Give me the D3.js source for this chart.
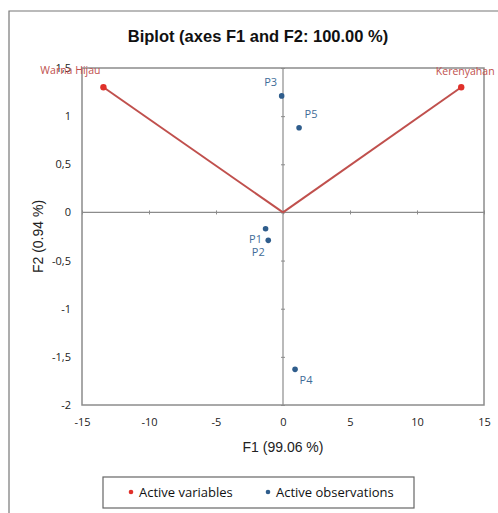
<!DOCTYPE html>
<html><head><meta charset="utf-8">
<script src="https://cdn.jsdelivr.net/npm/d3@7"></script>
<style>body{margin:0;background:#fff}svg{display:block}</style>
</head><body>
<script>
const variableNames = ["Warna Hijau", "Kerenyahan"];
const variableF1 = [-13.4, 13.3];
const variableF2 = [1.3, 1.3];
const observationNames = ["P1", "P2", "P3", "P4", "P5"];
const observationF1 = [-1.3, -1.1, -0.1, 0.9, 1.2];
const observationF2 = [-0.17, -0.29, 1.21, -1.63, 0.88];
const xTicks = [-15, -10, -5, 0, 5, 10, 15];
const yTicks = [-2, -1.5, -1, -0.5, 0, 0.5, 1, 1.5];
const legendLabels = ["Active variables", "Active observations"];

const W = 498, H = 513;
const plot = {l: 82, r: 484, t: 68, b: 405};
const red = "#c0504d", redDot = "#e0302a", blue = "#2f5d8c", blueText = "#3f6c98", grey = "#8c8c8c";

const svg = d3.select("body").append("svg").attr("width", W).attr("height", H);
const x = d3.scaleLinear().domain([-15, 15]).range([plot.l, plot.r]);
const y = d3.scaleLinear().domain([-2, 1.5]).range([plot.b, plot.t]);
const fmt = v => String(v).replace(".", ",");

// outer frame (top and left)
svg.append("path").attr("d", `M9,${H} V11 H${W}`).attr("fill", "none").attr("stroke", "#777").attr("stroke-width", 1.2);

// title
svg.append("text").attr("x", 258).attr("y", 42).attr("text-anchor", "middle")
  .attr("font-family", "Liberation Sans, Arial, sans-serif").attr("font-weight", "bold").attr("font-size", 16.5)
  .attr("fill", "#111").text("Biplot (axes F1 and F2: 100.00 %)");

// plot frame
svg.append("rect").attr("x", plot.l).attr("y", plot.t).attr("width", plot.r - plot.l).attr("height", plot.b - plot.t)
  .attr("fill", "none").attr("stroke", grey).attr("stroke-width", 1.5);

// zero lines
svg.append("line").attr("x1", plot.l).attr("x2", plot.r).attr("y1", y(0)).attr("y2", y(0)).attr("stroke", grey).attr("stroke-width", 1.2);
svg.append("line").attr("x1", x(0)).attr("x2", x(0)).attr("y1", plot.t).attr("y2", plot.b).attr("stroke", grey).attr("stroke-width", 1.2);

// axis ticks on zero lines
const xAxis = d3.axisBottom(x).tickValues(xTicks).tickSize(4).tickFormat("");
const gx0 = svg.append("g").attr("transform", `translate(0,${y(0) - 2})`).call(xAxis);
gx0.select(".domain").remove();
gx0.selectAll("line").attr("stroke", grey);
const yAxis = d3.axisRight(y).tickValues(yTicks).tickSize(4).tickFormat("");
const gy0 = svg.append("g").attr("transform", `translate(${x(0) - 2},0)`).call(yAxis);
gy0.select(".domain").remove();
gy0.selectAll("line").attr("stroke", grey);

// tick labels
const gxl = svg.append("g").attr("transform", `translate(0,${plot.b})`)
  .call(d3.axisBottom(x).tickValues(xTicks).tickSize(0).tickPadding(13).tickFormat(fmt));
gxl.select(".domain").remove();
gxl.selectAll("text").attr("font-family", "Open Sans, sans-serif").attr("font-size", 11).attr("fill", "#222");
const gyl = svg.append("g").attr("transform", `translate(${plot.l},0)`)
  .call(d3.axisLeft(y).tickValues(yTicks).tickSize(0).tickPadding(11).tickFormat(fmt));
gyl.select(".domain").remove();
gyl.selectAll("text").attr("font-family", "Open Sans, sans-serif").attr("font-size", 11).attr("fill", "#222");

// axis titles
svg.append("text").attr("x", x(0)).attr("y", 452).attr("text-anchor", "middle")
  .attr("font-family", "Liberation Sans, Arial, sans-serif").attr("font-size", 14).attr("fill", "#222").text("F1 (99.06 %)");
svg.append("text").attr("transform", `translate(43,${(plot.t + plot.b) / 2}) rotate(-90)`).attr("text-anchor", "middle")
  .attr("font-family", "Liberation Sans, Arial, sans-serif").attr("font-size", 14).attr("fill", "#222").text("F2 (0.94 %)");

// variable vectors
const vars = variableNames.map((n, i) => ({n, f1: variableF1[i], f2: variableF2[i]}));
svg.selectAll(".vec").data(vars).enter().append("line")
  .attr("x1", x(0)).attr("y1", y(0)).attr("x2", d => x(d.f1)).attr("y2", d => y(d.f2))
  .attr("stroke", red).attr("stroke-width", 2);
svg.selectAll(".vdot").data(vars).enter().append("circle")
  .attr("cx", d => x(d.f1)).attr("cy", d => y(d.f2)).attr("r", 3.2).attr("fill", redDot);
const varLabelDx = [-33, 4], varLabelDy = [-13, -12];
svg.selectAll(".vlab").data(vars).enter().append("text")
  .attr("x", (d, i) => x(d.f1) + varLabelDx[i]).attr("y", (d, i) => y(d.f2) + varLabelDy[i])
  .attr("text-anchor", "middle").attr("font-family", "Open Sans, sans-serif").attr("font-size", 10.5)
  .attr("fill", red).text(d => d.n);

// observations
const obs = observationNames.map((n, i) => ({n, f1: observationF1[i], f2: observationF2[i]}));
svg.selectAll(".odot").data(obs).enter().append("circle")
  .attr("cx", d => x(d.f1)).attr("cy", d => y(d.f2)).attr("r", 2.8).attr("fill", blue);
const obsDx = {P1: -10, P2: -10, P3: -11, P4: 11, P5: 12};
const obsDy = {P1: 14, P2: 16, P3: -10, P4: 15, P5: -10};
svg.selectAll(".olab").data(obs).enter().append("text")
  .attr("x", d => x(d.f1) + obsDx[d.n]).attr("y", d => y(d.f2) + obsDy[d.n])
  .attr("text-anchor", "middle").attr("font-family", "Open Sans, sans-serif").attr("font-size", 11)
  .attr("fill", blueText).text(d => d.n);

// legend
svg.append("rect").attr("x", 103).attr("y", 477).attr("width", 311).attr("height", 31)
  .attr("fill", "#fff").attr("stroke", "#666").attr("stroke-width", 1.2);
const legColors = [redDot, blue], legX = [131, 268];
legendLabels.forEach((t, i) => {
  svg.append("circle").attr("cx", legX[i]).attr("cy", 492).attr("r", 2.3).attr("fill", legColors[i]);
  svg.append("text").attr("x", legX[i] + 8).attr("y", 497).attr("font-family", "Open Sans, sans-serif")
    .attr("font-size", 13).attr("fill", "#111").text(t);
});
</script>
</body></html>
